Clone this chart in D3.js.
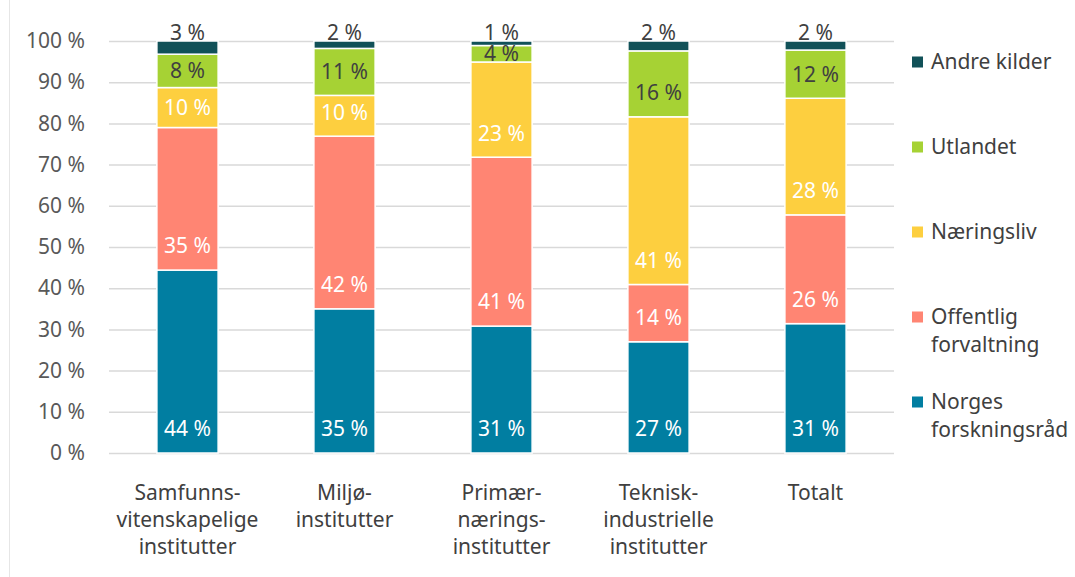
<!DOCTYPE html>
<html><head><meta charset="utf-8">
<script src="https://cdn.jsdelivr.net/npm/d3@7"></script>
<style>
html,body{margin:0;padding:0;background:#fff;}
text{font-family:"Noto Sans", "Open Sans", sans-serif;}
</style></head>
<body>
<svg id="chart" width="1075" height="577"></svg>
<script>
const categories = ["Samfunns-\nvitenskapelige\ninstitutter","Miljø-\ninstitutter","Primær-\nnærings-\ninstitutter","Teknisk-\nindustrielle\ninstitutter","Totalt"];
const seriesNames = ["Norges forskningsråd","Offentlig forvaltning","Næringsliv","Utlandet","Andre kilder"];
const legendLines = [["Norges","forskningsråd"],["Offentlig","forvaltning"],["Næringsliv"],["Utlandet"],["Andre kilder"]];
const norges     = [44.4, 35.0, 30.8, 27.0, 31.4];
const offentlig  = [34.6, 41.9, 41.0, 13.9, 26.4];
const naeringsliv= [ 9.7,  9.9, 23.1, 40.7, 28.3];
const utlandet   = [ 8.1, 11.4,  4.0, 16.0, 11.7];
const andre      = [ 3.2,  1.8,  1.1,  2.4,  2.2];
const tickValues = [0,10,20,30,40,50,60,70,80,90,100];
const colors = ["#017ea1","#ff8573","#fdcf3f","#a6d234","#115158"];
const labelColors = ["#ffffff","#ffffff","#ffffff","#404040","#404040"];

const seriesValues = [norges, offentlig, naeringsliv, utlandet, andre];
const rows = categories.map((c,i)=>{
  const r = {cat:c};
  seriesNames.forEach((s,j)=> r[s]=seriesValues[j][i]);
  return r;
});
const stacked = d3.stack().keys(seriesNames)(rows);

const svg = d3.select("#chart");
const x = d3.scaleBand().domain(categories).range([109, 894]).paddingInner(0.61).paddingOuter(0.305);
const y = d3.scaleLinear().domain([0,100]).range([453, 41]);
const FS = "21px";

// left border line
svg.append("line").attr("x1",9.5).attr("x2",9.5).attr("y1",0).attr("y2",577)
  .attr("stroke","#e6e6e6").attr("stroke-width",1);

// y axis with gridlines
const yAxis = svg.append("g").attr("transform","translate(109,0)")
  .call(d3.axisLeft(y).tickValues(tickValues).tickSize(-(894-109)).tickPadding(24).tickFormat(d=>d+" %"));
yAxis.select(".domain").remove();
yAxis.selectAll(".tick line").attr("stroke","#d9d9d9").attr("stroke-width",1.5);
yAxis.selectAll(".tick text").attr("fill","#595959").style("font-size",FS);

// bars
const layer = svg.append("g").selectAll("g").data(stacked).join("g")
  .attr("fill",(d,i)=>colors[i]);
layer.selectAll("rect").data(d=>d).join("rect")
  .attr("x",d=>x(d.data.cat))
  .attr("width",x.bandwidth())
  .attr("y",d=>y(d[1]))
  .attr("height",d=>y(d[0])-y(d[1]))
  .attr("stroke","#fff").attr("stroke-width",1.5);

// labels
const fmt = d3.format(".0f");
stacked.forEach((s,si)=>{
  svg.append("g").selectAll("text").data(s).join("text")
    .attr("x",d=>x(d.data.cat)+x.bandwidth()/2)
    .attr("y",d=>{
      const top=y(d[1]), base=y(d[0]), h=base-top;
      if (h < 14) return top-8;
      if (h >= 40) return base-24;
      return (top+base)/2;
    })
    .attr("dy","0.35em")
    .attr("text-anchor","middle")
    .attr("fill",labelColors[si])
    .style("font-size",FS)
    .text(d=>fmt(d[1]-d[0])+" %");
});

// category labels
const catG = svg.append("g");
categories.forEach(c=>{
  const lines = c.split("\n");
  const t = catG.append("text").attr("text-anchor","middle").attr("fill","#404040").style("font-size",FS);
  lines.forEach((l,k)=>{
    t.append("tspan").attr("x",x(c)+x.bandwidth()/2).attr("y",493+k*27).attr("dy","0.35em").text(l);
  });
});

// legend
const legY = [402,317,232,147,62];
seriesNames.forEach((s,i)=>{
  svg.append("rect").attr("x",912).attr("y",legY[i]-5.5).attr("width",11).attr("height",11).attr("fill",colors[i]);
  const t = svg.append("text").attr("fill","#404040").style("font-size",FS);
  legendLines[i].forEach((l,k)=>{
    t.append("tspan").attr("x",931).attr("y",legY[i]+k*28).attr("dy","0.35em").text(l);
  });
});
</script>
</body></html>
